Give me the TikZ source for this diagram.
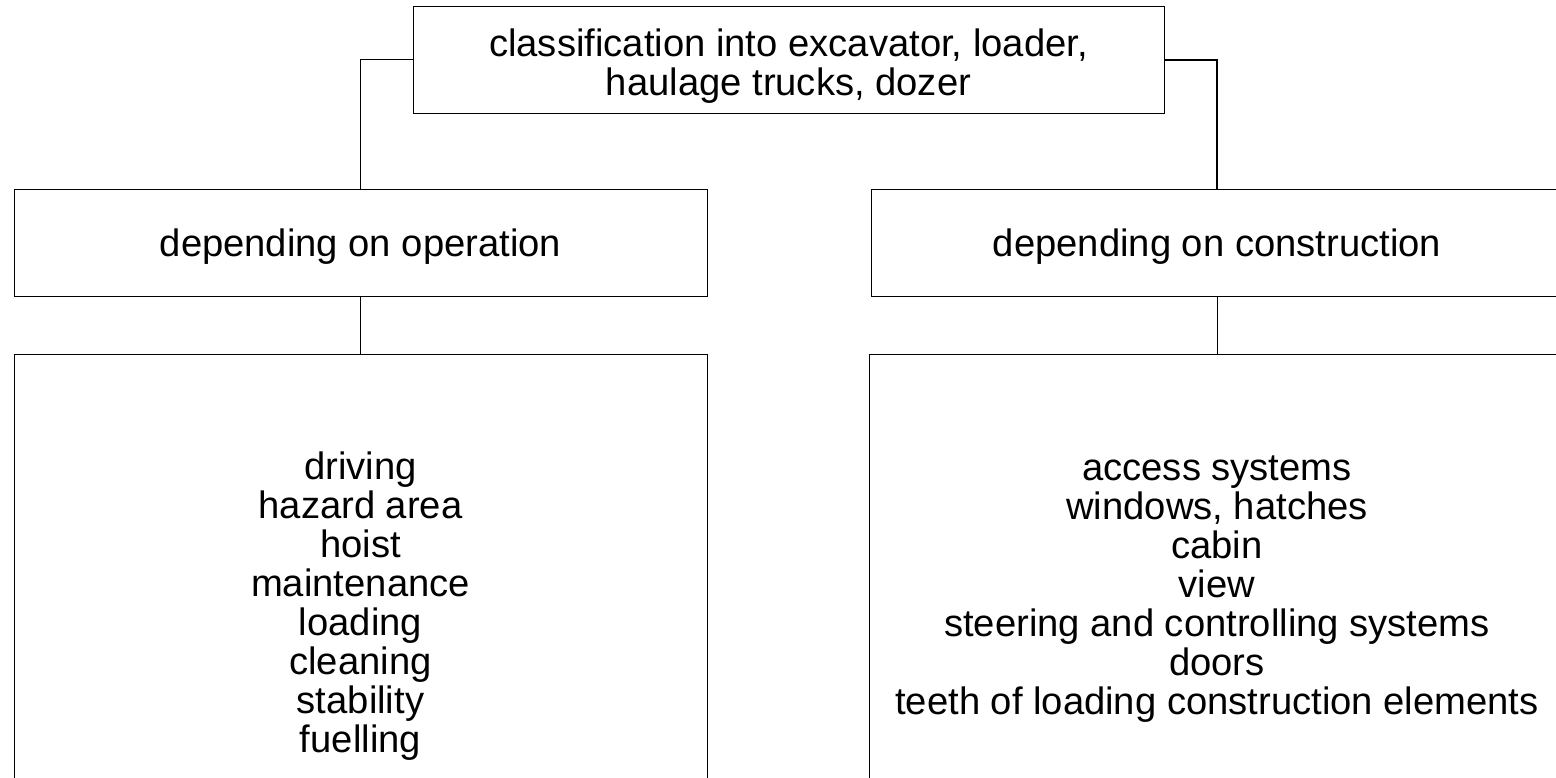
\documentclass[tikz,border=0pt]{standalone}
\usepackage{fontspec}
\setmainfont{Liberation Sans}
\newcommand{\toppad}[1]{\rule{0pt}{#1}}
\tikzset{
  box/.style={draw, line width=0.5pt, inner sep=0pt, align=center,
    font=\fontsize{19.1pt}{19.5pt}\selectfont},
  link/.style={line width=0.5pt}
}
\begin{document}
\begin{tikzpicture}[x=0.5pt,y=-0.5pt]
  \useasboundingbox (0,0) rectangle (1556,777);
  \node[box, minimum width=375.5pt, minimum height=53.5pt] (class) at (788.5,59.5)
    {\toppad{20pt}classification into excavator, loader,\\ haulage trucks, dozer};
  \node[box, minimum width=346.5pt, minimum height=53.5pt] (opmid) at (360.5,242.5)
    {\toppad{17.5pt}depending on operation};
  \node[box, minimum width=346pt, minimum height=53.5pt] (conmid) at (1217,242.5)
    {\toppad{17.5pt}depending on construction};
  \node[box, minimum width=346.5pt, minimum height=248pt] (oplow) at (360.5,602)
    {\toppad{18pt}driving\\ hazard area\\ hoist\\ maintenance\\ loading\\ cleaning\\ stability\\ fuelling};
  \node[box, minimum width=348pt, minimum height=229pt] (conlow) at (1217,583)
    {\toppad{18pt}access systems\\ windows, hatches\\ cabin\\ view\\ steering and controlling systems\\ doors\\ teeth of loading construction elements};
  \draw[link] (class.west) -| (opmid.north);
  \draw[link, line width=1pt] (class.east) -| (conmid.north);
  \draw[link] (opmid.south) -- (oplow.north);
  \draw[link] (conmid.south) -- (conlow.north);
\end{tikzpicture}
\end{document}
